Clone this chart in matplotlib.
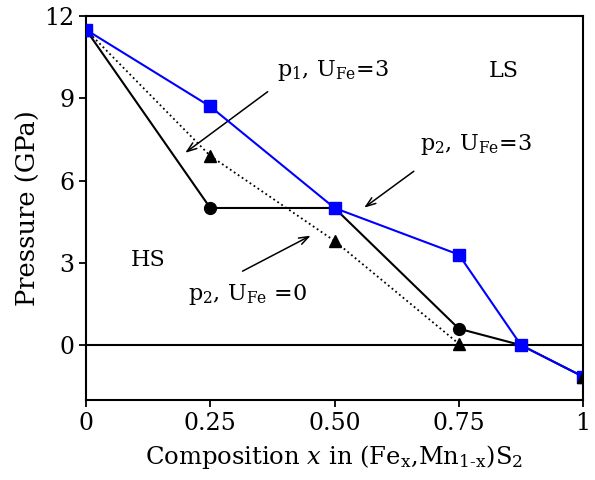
import matplotlib
matplotlib.use('Agg')
import matplotlib.pyplot as plt

# Data
x = [0, 0.25, 0.5, 0.75, 0.875, 1.0]
p_black = [11.5, 5.0, 5.0, 0.6, 0.0, -1.15]
p_blue = [11.5, 8.7, 5.0, 3.3, 0.0, -1.15]
x_tri = [0, 0.25, 0.5, 0.75]
p_tri = [11.5, 6.9, 3.8, 0.05]
x_end = [1.0]
p_end = [-1.15]

xticks = [0, 0.25, 0.5, 0.75, 1.0]
xticklabels = ['0', '0.25', '0.50', '0.75', '1']
yticks = [0, 3, 6, 9, 12]

plt.rcParams['font.family'] = ['DejaVu Serif']
plt.rcParams['mathtext.fontset'] = 'dejavuserif'

fig = plt.figure(figsize=(5.95, 4.8), dpi=100)
ax = fig.add_axes([0.1445, 0.1667, 0.8355, 0.8])

# zero line
ax.axhline(0, color='black', lw=1.5, zorder=1)

ax.plot(x_tri, p_tri, color='black', ls=':', lw=1.3, marker='^', ms=8.5, zorder=2)
ax.plot(x, p_black, color='black', lw=1.5, marker='o', ms=8.5, markevery=[0, 1, 3], zorder=3)
ax.plot(x, p_blue, color='#0000ff', lw=1.5, marker='s', ms=8.5, zorder=4)
ax.plot(x_end, p_end, color='black', marker='^', ms=8.5, ls='none', zorder=5)

# annotations
arrow = dict(arrowstyle='->,head_length=0.7,head_width=0.25', color='black', lw=1.1)
ax.annotate('', xy=(0.195, 6.95), xytext=(0.37, 9.3), arrowprops=arrow)
ax.annotate('', xy=(0.555, 4.95), xytext=(0.664, 6.4), arrowprops=arrow)
ax.annotate('', xy=(0.457, 4.04), xytext=(0.31, 2.65), arrowprops=arrow)

ax.text(0.385, 10.0, r'p$_1$, U$_{\rm Fe}$=3', fontsize=16, va='center')
ax.text(0.672, 7.3, r'p$_2$, U$_{\rm Fe}$=3', fontsize=16, va='center')
ax.text(0.205, 1.85, r'p$_2$, U$_{\rm Fe}$ =0', fontsize=16, va='center')
ax.text(0.09, 3.1, 'HS', fontsize=16, va='center')
ax.text(0.81, 10.0, 'LS', fontsize=16, va='center')

ax.set_xlim(0, 1)
ax.set_ylim(-2, 12)
ax.set_xticks(xticks)
ax.set_xticklabels(xticklabels)
ax.set_yticks(yticks)
ax.tick_params(labelsize=17, direction='out', length=5, width=1.3)
for s in ax.spines.values():
    s.set_linewidth(1.5)

ax.set_xlabel(r'Composition $x$ in (Fe$_{\rm x}$,Mn$_{\rm 1\text{-}x}$)S$_2$',
              fontsize=17.5, labelpad=6)
ax.set_ylabel('Pressure (GPa)', fontsize=18.5, labelpad=2)

fig.savefig('out.png', dpi=100)
